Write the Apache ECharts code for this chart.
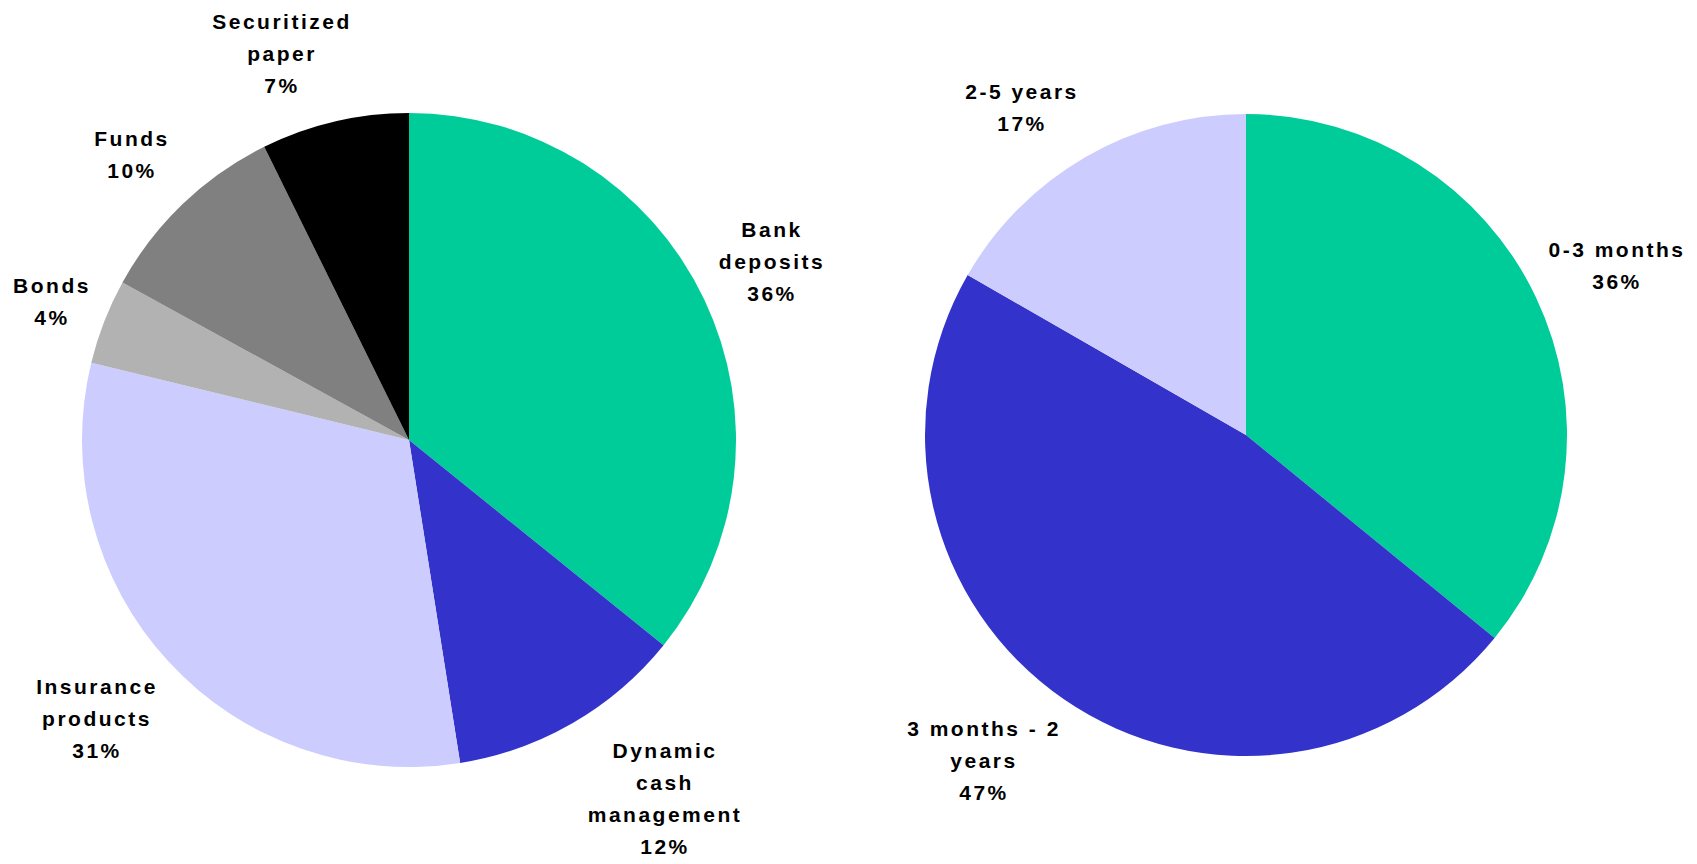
<!DOCTYPE html>
<html>
<head>
<meta charset="utf-8">
<script src="https://cdn.jsdelivr.net/npm/echarts@6/dist/echarts.min.js"></script>
<style>
  html, body { margin: 0; padding: 0; background: #ffffff; }
  #chart { width: 1697px; height: 864px; }
  #chart text { letter-spacing: 2.5px; }
</style>
</head>
<body>
<div id="chart"></div>
<script>
// ---- Data ----
const productCategories = ['Bank\ndeposits', 'Dynamic\ncash\nmanagement', 'Insurance\nproducts', 'Bonds', 'Funds', 'Securitized\npaper'];
const productShares = [35.8, 11.7, 31.3, 4.2, 9.7, 7.3];

const maturityCategories = ['0-3 months', '3 months - 2\nyears', '2-5 years'];
const maturityShares = [35.9, 47.4, 16.7];

// ---- Styles ----
const productColors = ['#00CC99', '#3333CC', '#CCCCFF', '#B2B2B2', '#808080', '#000000'];
const maturityColors = ['#00CC99', '#3333CC', '#CCCCFF'];
const productLabelPos = [[772, 261], [665, 798], [97, 718], [52, 301], [132, 154], [282, 53]];
const maturityLabelPos = [[1617, 265], [984, 760], [1022, 107]];

const chart = echarts.init(document.getElementById('chart'), null, { renderer: 'svg' });

function buildData(names, values, colors) {
  return names.map((n, i) => ({ name: n, value: values[i], itemStyle: { color: colors[i] } }));
}

const labelStyle = {
  show: true,
  position: 'outside',
  formatter: function (p) { return p.name + '\n' + Math.round(p.value) + '%'; },
  color: '#000000',
  fontFamily: 'Liberation Sans, Arial, sans-serif',
  fontWeight: 'bold',
  fontSize: 21,
  lineHeight: 32,
  align: 'center'
};

function pieSeries(names, values, colors, center, radius, pos) {
  return {
    type: 'pie',
    center: center,
    radius: radius,
    startAngle: 90,
    clockwise: true,
    avoidLabelOverlap: false,
    silent: true,
    animation: false,
    itemStyle: { borderWidth: 0 },
    label: labelStyle,
    labelLine: { show: false },
    emphasis: { disabled: true },
    labelLayout: function (p) {
      const xy = pos[p.dataIndex];
      return { x: xy[0], y: xy[1], align: 'center', verticalAlign: 'middle' };
    },
    data: buildData(names, values, colors)
  };
}

chart.setOption({
  backgroundColor: '#ffffff',
  animation: false,
  series: [
    pieSeries(productCategories, productShares, productColors, [409, 440], 327, productLabelPos),
    pieSeries(maturityCategories, maturityShares, maturityColors, [1246, 435], 321, maturityLabelPos)
  ]
});
</script>
</body>
</html>
